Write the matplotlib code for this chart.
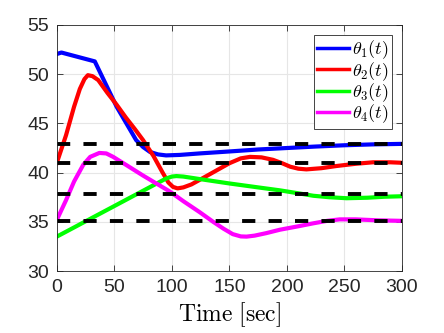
import numpy as np
import matplotlib
matplotlib.use("Agg")
import matplotlib.pyplot as plt

plt.rcParams['mathtext.fontset'] = 'cm'
plt.rcParams['font.family'] = ['Liberation Sans', 'DejaVu Sans']

# theta_1(t)
t1 = [0, 4, 33, 52, 69, 75, 81, 88, 95, 107, 124, 150, 175, 200, 225, 250, 275, 300]
v1 = [52.05, 52.2, 51.3, 46.7, 43.3, 42.6, 42.1, 41.85, 41.75, 41.8, 41.95, 42.15,
      42.35, 42.5, 42.65, 42.78, 42.87, 42.92]

# theta_2(t)
t2 = [0, 8, 15, 20, 24, 27, 31, 36, 44, 52, 60, 68, 75, 84, 92, 97, 101, 105, 110,
      117, 124, 137, 150, 160, 168, 178, 188, 196, 203, 210, 217, 230, 243, 260, 275,
      290, 300]
v2 = [41.0, 43.8, 46.7, 48.5, 49.5, 49.9, 49.8, 49.4, 48.1, 46.9, 45.6, 44.4, 43.3,
      41.7, 40.0, 39.0, 38.55, 38.4, 38.5, 38.8, 39.25, 40.1, 40.95, 41.45, 41.6,
      41.55, 41.3, 40.95, 40.6, 40.4, 40.33, 40.45, 40.67, 40.9, 41.05, 41.05, 41.0]

# theta_3(t)
t3 = [0, 95, 100, 104, 110, 124, 150, 175, 194, 210, 223, 237, 252, 270, 285, 300]
v3 = [33.5, 39.4, 39.6, 39.65, 39.6, 39.35, 38.9, 38.5, 38.2, 37.9, 37.65, 37.5,
      37.4, 37.45, 37.55, 37.6]

# theta_4(t)
t4 = [0, 8, 15, 23, 29, 37, 43, 49, 60, 75, 98, 110, 124, 136, 145, 153, 160, 165,
      172, 182, 194, 210, 223, 235, 246, 260, 280, 300]
v4 = [35.2, 37.2, 39.1, 40.8, 41.6, 42.0, 41.95, 41.6, 40.8, 39.7, 38.1, 37.1, 36.0,
      35.0, 34.3, 33.75, 33.52, 33.5, 33.6, 33.85, 34.2, 34.55, 34.85, 35.1, 35.25,
      35.25, 35.15, 35.1]

# steady-state reference levels
ref_levels = [42.9, 41.0, 37.8, 35.1]

fig = plt.figure(figsize=(4.44, 3.33), dpi=100)
ax = fig.add_axes([0.128, 0.186, 0.777, 0.739])

lw = 3.0
ax.plot(t1, v1, color=(0, 0, 1), lw=lw, label=r'$\theta_1(t)$')
ax.plot(t2, v2, color=(1, 0, 0), lw=lw, label=r'$\theta_2(t)$')
ax.plot(t3, v3, color=(0, 1, 0), lw=lw, label=r'$\theta_3(t)$')
ax.plot(t4, v4, color=(1, 0, 1), lw=lw, label=r'$\theta_4(t)$')
for r in ref_levels:
    ax.plot([0, 300], [r, r], color='k', lw=2.8, dashes=(3.4, 3.4))

ax.set_xlim(0, 300)
ax.set_ylim(30, 55)
ax.set_xticks([0, 50, 100, 150, 200, 250, 300])
ax.set_yticks([30, 35, 40, 45, 50, 55])
ax.grid(True, color=(0.9, 0.9, 0.9), lw=0.8)
ax.set_axisbelow(True)
ax.tick_params(direction='in', top=True, right=True, labelsize=14,
               colors=(0.15, 0.15, 0.15), length=4, width=0.6)
ax.tick_params(axis='x', pad=6)
ax.tick_params(axis='y', pad=5.5)
for s in ax.spines.values():
    s.set_color((0.15, 0.15, 0.15))
    s.set_linewidth(0.6)
ax.set_xlabel(r'$\mathrm{Time\ [sec]}$', fontsize=17, labelpad=3)

leg = ax.legend(loc='upper right', fontsize=13, fancybox=False, framealpha=1,
                edgecolor=(0.15, 0.15, 0.15), handlelength=1.75, borderpad=0.2,
                labelspacing=-0.08, handletextpad=0.15, borderaxespad=0.55)
leg.get_frame().set_linewidth(0.6)
for h in leg.get_lines():
    h.set_linewidth(2.5)

fig.savefig('out.png', dpi=100)
